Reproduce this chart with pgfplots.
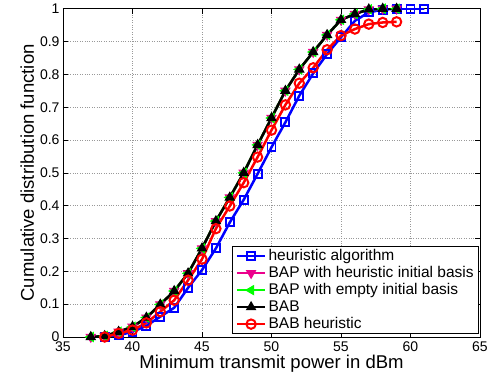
\documentclass[border=0pt]{standalone}
\usepackage{pgfplots}
\pgfplotsset{compat=1.18}
\usepackage{fontspec}
\setmainfont{Liberation Sans}
\pgfplotstableread{
x y
38 0
39 0.005
40 0.016
41 0.034
42 0.062
43 0.089
44 0.15
45 0.204
46 0.27
47 0.349
48 0.418
49 0.497
50 0.578
51 0.654
52 0.735
53 0.803
54 0.862
55 0.913
56 0.963
57 0.989
58 0.997
59 1
60 1
61 1
}\heur
\pgfplotstableread{
x y
37 0
38 0.003
39 0.016
40 0.031
41 0.059
42 0.099
43 0.14
44 0.194
45 0.27
46 0.353
47 0.425
48 0.50
49 0.585
50 0.667
51 0.75
52 0.815
53 0.868
54 0.92
55 0.966
56 0.984
57 0.998
58 1.0
59 1.0
}\bab
\pgfplotstableread{
x y
38 0
39 0.011
40 0.021
41 0.043
42 0.077
43 0.112
44 0.173
45 0.237
46 0.33
47 0.399
48 0.47
49 0.548
50 0.63
51 0.707
52 0.773
53 0.82
54 0.875
55 0.918
56 0.938
57 0.953
58 0.958
59 0.96
}\babh
\begin{document}
\begin{tikzpicture}
\begin{axis}[
  scale only axis,
  width=417pt, height=328.3pt,
  xmin=35, xmax=65, ymin=0, ymax=1,
  xtick={35,40,...,65},
  ytick={0,0.1,...,1.0},
  yticklabels={0,0.1,0.2,0.3,0.4,0.5,0.6,0.7,0.8,0.9,1},
  /pgf/number format/assume math mode=true,
  tick align=inside,
  major tick length=5pt,
  tick style={black, line width=0.6pt},
  axis line style={black, line width=0.9pt},
  grid=major,
  grid style={dotted, gray!80, line width=0.6pt},
  ticklabel style={font=\fontsize{14}{16}\selectfont},
  xticklabel style={yshift=-1pt},
  xlabel={Minimum transmit power in dBm},
  ylabel={Cumulative distribution function},
  label style={font=\fontsize{18.5}{20}\selectfont},
  xlabel style={yshift=3pt},
  ylabel style={yshift=-1pt},
  legend cell align=left,
  legend style={at={(0.9976,0.009)}, anchor=south east,
    font=\fontsize{15.5}{18}\selectfont, draw=black, line width=0.8pt,
    nodes={inner ysep=1pt, text height=11.5pt, text depth=3.5pt},
    row sep=0pt, inner xsep=3pt, inner ysep=1pt},
  legend image code/.code={\draw[mark repeat=2, mark phase=2] plot coordinates {(0cm,0cm) (0.5cm,0cm) (1.0cm,0cm)};},
  every axis plot/.append style={line width=2.5pt},
]
\addplot[blue, mark=square, mark size=4pt, mark options={line width=1.9pt}] table[x=x,y=y] {\heur};
\addlegendentry{heuristic algorithm}
\addplot[magenta, mark=triangle*, mark size=5.2pt, mark options={rotate=180, line width=1pt}] table[x=x,y=y] {\bab};
\addlegendentry{BAP with heuristic initial basis}
\addplot[green, mark=triangle*, mark size=5.2pt, mark options={rotate=90, line width=1pt}] table[x=x,y=y] {\bab};
\addlegendentry{BAP with empty initial basis}
\addplot[black, mark=triangle*, mark size=5.2pt, mark options={line width=1pt}] table[x=x,y=y] {\bab};
\addlegendentry{BAB}
\addplot[red, mark=o, mark size=4.7pt, mark options={line width=2pt}] table[x=x,y=y] {\babh};
\addlegendentry{BAB heuristic}
\end{axis}
\pgfresetboundingbox
\path[use as bounding box] ([shift={(-63pt,-42pt)}]current axis.south west) rectangle ([shift={(11pt,8.7pt)}]current axis.north east);
\end{tikzpicture}
\end{document}
